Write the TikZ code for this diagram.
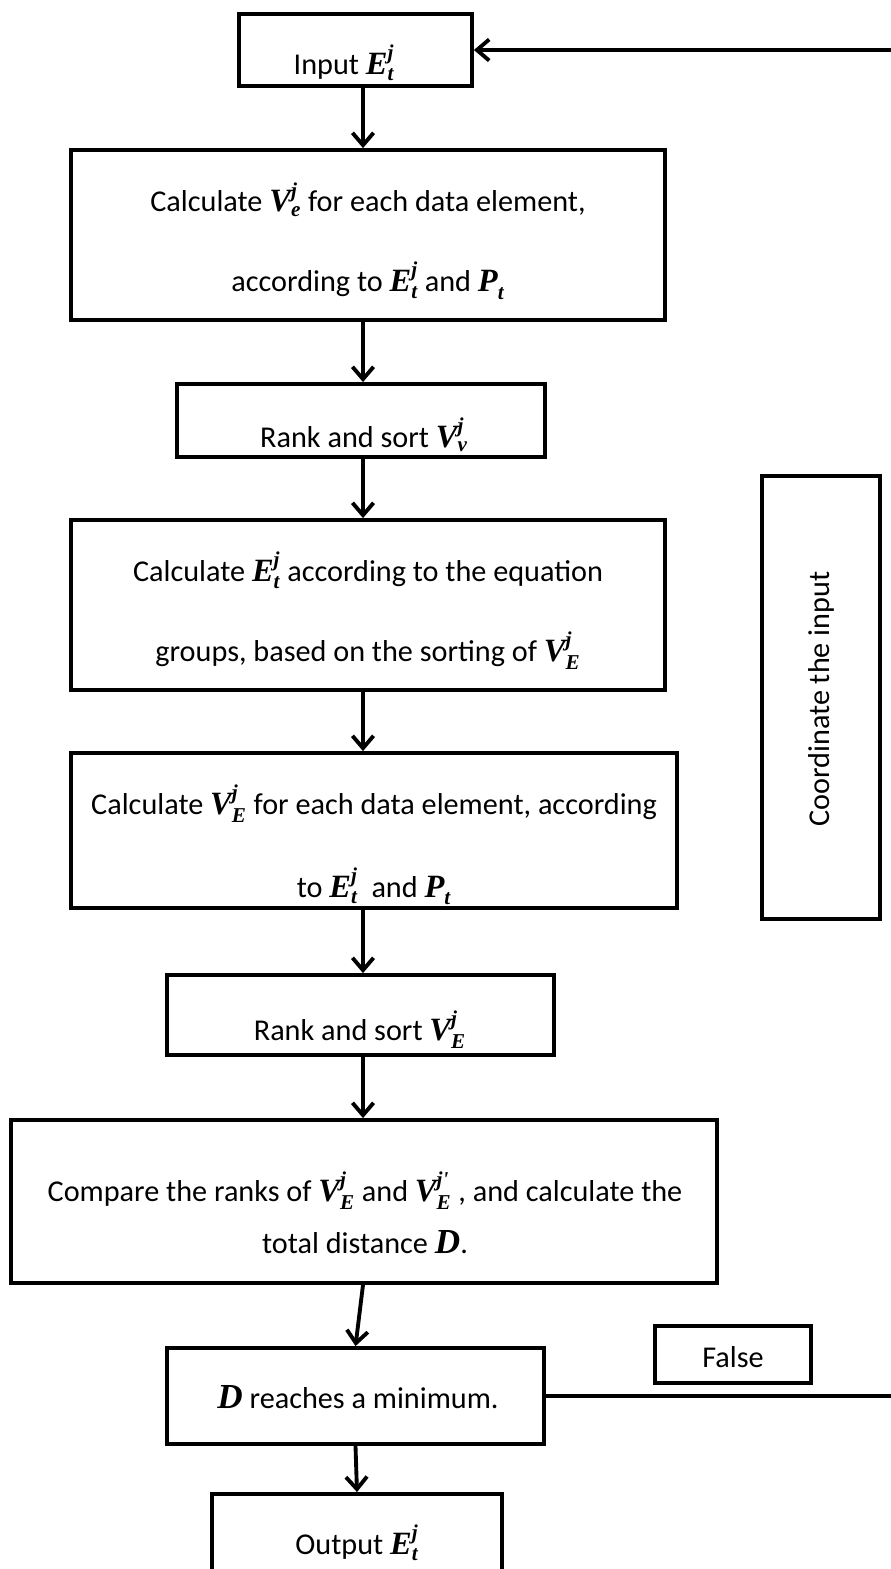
\documentclass[tikz,border=0pt]{standalone}
\usepackage{fontspec}
\usepackage{amsmath}
\setmainfont{Carlito}
\newfontfamily\symfont{Liberation Serif}
\usetikzlibrary{arrows.meta}

\newcommand{\symbf}[1]{{\symfont\bfseries\itshape #1}}
\newcommand{\sym}[3]{{\fontsize{18.5}{21}\selectfont\symbf{#1}}$^{\text{\symbf{#3}}}_{\text{\symbf{#2}}}$}
\newcommand{\symD}{{\fontsize{20}{21}\selectfont\symbf{D}}}

\begin{document}
\begin{tikzpicture}[x=0.02cm, y=-0.02cm, line width=2.2pt,
  box/.style={draw, rectangle, inner sep=0pt},
  txt/.style={align=center, inner sep=0pt, font=\fontsize{17.2}{21}\selectfont},
  arr/.style={-{Straight Barb[length=7pt,width=12pt]}}]
  \useasboundingbox (0,0) rectangle (890,1569);
  \coordinate (spine) at (363,0);
  \coordinate (loop) at (910,0);

  % boxes
  \node[box, minimum width=4.66cm, minimum height=1.44cm] (inp) at (355.5,50) {};
  \node[box, minimum width=11.88cm, minimum height=3.40cm] (calcv) at (368,235) {};
  \node[box, minimum width=7.36cm, minimum height=1.46cm] (rank1) at (361,420.5) {};
  \node[box, minimum width=11.88cm, minimum height=3.40cm] (calce) at (368,605) {};
  \node[box, minimum width=12.12cm, minimum height=3.10cm] (calcve) at (374,830.5) {};
  \node[box, minimum width=7.74cm, minimum height=1.60cm] (rank2) at (360.5,1015) {};
  \node[box, minimum width=14.12cm, minimum height=3.26cm] (comp) at (364,1201.5) {};
  \node[box, minimum width=7.54cm, minimum height=1.92cm] (dmin) at (355.5,1396) {};
  \node[box, minimum width=5.80cm, minimum height=2.08cm] (out) at (357,1546) {};
  \node[box, minimum width=3.12cm, minimum height=1.14cm] (false) at (733,1354.5) {};
  \node[box, minimum width=2.36cm, minimum height=8.86cm] (coord) at (821,697.5) {};

  % texts
  \node[txt] (inpt) at (344,63) {Input \sym{E}{t}{j}};
  \node[txt] (calcvt) at (368,241) {Calculate \sym{V}{e}{j} for each data element,\\[24.5pt]
    according to \sym{E}{t}{j} and \sym{P}{t}{}};
  \node[txt] (rank1t) at (364,435) {Rank and sort \sym{V}{v}{j}};
  \node[txt] (calcet) at (368,611) {Calculate \sym{E}{t}{j} according to the equation\\[24.5pt]
    groups, based on the sorting of \sym{V}{E}{j}};
  \node[txt] (calcvet) at (374,845) {Calculate \sym{V}{E}{j} for each data element, according\\[24.5pt]
    to \sym{E}{t}{j}\ \ and \sym{P}{t}{}};
  \node[txt] (rank2t) at (360,1030) {Rank and sort \sym{V}{E}{j}};
  \node[txt] (compt) at (365,1213) {Compare the ranks of \sym{V}{E}{j} and \sym{V}{E}{j'} , and calculate the\\[8.6pt]
    total distance \symD.};
  \node[txt] (dmint) at (358,1397) {\symD\ reaches a minimum.};
  \node[txt] (outt) at (357,1543) {Output \sym{E}{t}{j}};
  \node[txt] (falset) at (733,1357) {False};
  \node[txt, rotate=90] (coordt) at (821,699) {Coordinate the input};

  % connectors
  \foreach \a/\b in {inp/calcv, calcv/rank1, rank1/calce, calce/calcve, calcve/rank2, rank2/comp}
    \draw[arr] (\a.south -| spine) -- (\b.north -| spine);
  \draw[arr] (comp.south -| spine) -- (dmin.north);
  \draw[arr] (dmin.south) -- (out.north);
  \draw[arr] (dmin.east) -- (dmin.east -| loop) |- (inp.east);
\end{tikzpicture}
\end{document}
